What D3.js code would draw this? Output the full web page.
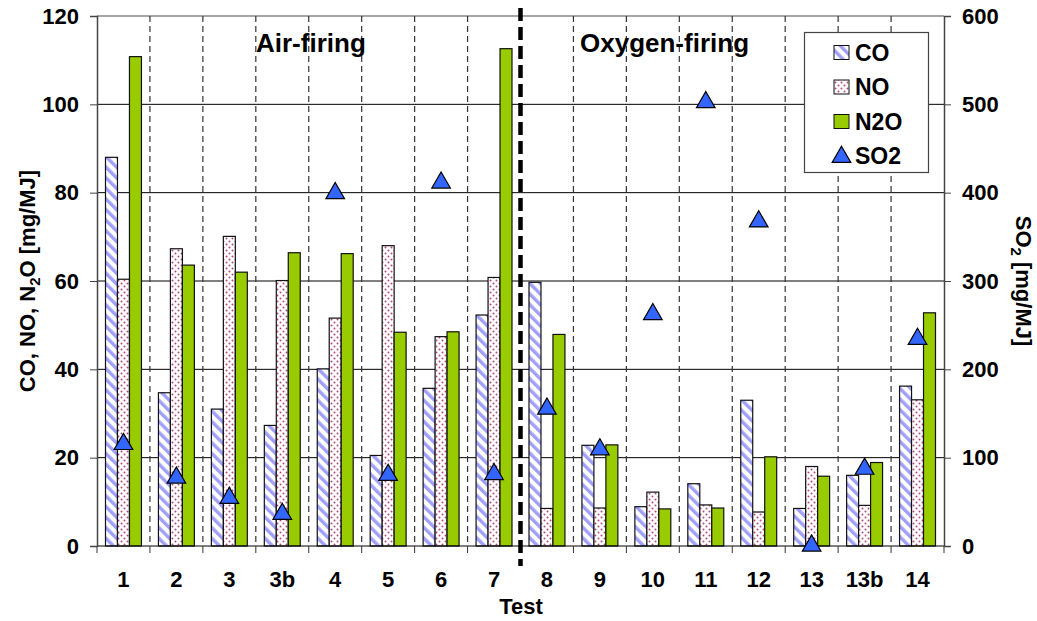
<!DOCTYPE html>
<html>
<head>
<meta charset="utf-8">
<script src="https://cdn.jsdelivr.net/npm/d3@7"></script>
<style>
body{margin:0;background:#fff}
text{font-family:"Liberation Sans",Arial,sans-serif;font-weight:bold;fill:#000}
</style>
</head>
<body>
<svg id="chart" width="1037" height="621"></svg>
<script>
//test data
var tests = ['1','2','3','3b','4','5','6','7','8','9','10','11','12','13','13b','14'];
var co  = [88.0,34.7,31.0,27.3,40.1,20.5,35.7,52.3,59.7,22.8,8.9,14.1,33.0,8.5,16.0,36.2];
var no  = [60.4,67.3,70.1,60.1,51.6,68.0,47.4,60.8,8.5,8.6,12.2,9.3,7.7,18.0,9.2,33.1];
var n2o = [110.8,63.6,62.0,66.4,66.2,48.4,48.5,112.6,47.9,22.9,8.4,8.6,20.2,15.8,18.9,52.8];
var so2 = [117,79,56,38,401,82,413,83,157,111,264,504,369,2,89,236];
var leftTicks = [0,20,40,60,80,100,120];
var rightTicks = [0,100,200,300,400,500,600];
var seriesNames = ['CO','NO','N2O'];
var splitAfter = '7';

var svg = d3.select('#chart');
var pLeft = 97, pRight = 944, pTop = 16, pBottom = 546;

var x = d3.scaleBand().domain(tests).range([pLeft,pRight]);
var xs = d3.scaleBand().domain(seriesNames).range([8.5, x.bandwidth()-8.5]);
var y = d3.scaleLinear().domain([0,120]).range([pBottom,pTop]);
var y2 = d3.scaleLinear().domain([0,600]).range([pBottom,pTop]);

//patterns
var defs = svg.append('defs');
var hatch = defs.append('pattern')
	.attr('id','coHatch')
	.attr('patternUnits','userSpaceOnUse')
	.attr('width',7.5).attr('height',7.5)
	.attr('patternTransform','rotate(-45)');
hatch.append('rect').attr('width',7.5).attr('height',7.5).attr('fill','#fff');
hatch.append('rect').attr('width',3.4).attr('height',7.5).attr('fill','#a0a0fa');

var dots = defs.append('pattern')
	.attr('id','noDots')
	.attr('patternUnits','userSpaceOnUse')
	.attr('width',6).attr('height',6);
dots.append('rect').attr('width',6).attr('height',6).attr('fill','#fff');
dots.append('circle').attr('cx',1.5).attr('cy',1.5).attr('r',1).attr('fill','#b4487a');
dots.append('circle').attr('cx',4.5).attr('cy',4.5).attr('r',1).attr('fill','#b4487a');

var fills = {CO:'url(#coHatch)', NO:'url(#noDots)', N2O:'#99cc00'};
var values = {CO:co, NO:no, N2O:n2o};

//horizontal grid
svg.append('g').selectAll('line').data(leftTicks.slice(1,-1)).enter()
	.append('line')
	.attr('x1',pLeft).attr('x2',pRight)
	.attr('y1',function(d){ return y(d)}).attr('y2',function(d){ return y(d)})
	.attr('stroke','#000').attr('stroke-width',1);
svg.append('line').attr('x1',pLeft).attr('x2',pRight).attr('y1',y(120)).attr('y2',y(120))
	.attr('stroke','#888').attr('stroke-width',1.5);

//vertical dashed grid
var bounds = tests.slice(1);
svg.append('g').selectAll('line').data(bounds).enter()
	.append('line')
	.attr('x1',function(d){ return x(d)}).attr('x2',function(d){ return x(d)})
	.attr('y1',pTop).attr('y2',pBottom)
	.attr('stroke','#333').attr('stroke-width',1.2)
	.attr('stroke-dasharray','6,4')
	.style('display',function(d){ return d == tests[tests.indexOf(splitAfter)+1] ? 'none' : null});

//bars
seriesNames.forEach(function(s){
	svg.append('g').selectAll('rect').data(tests).enter()
		.append('rect')
		.attr('x',function(d){ return x(d) + xs(s)})
		.attr('width',xs.bandwidth())
		.attr('y',function(d,i){ return y(values[s][i])})
		.attr('height',function(d,i){ return pBottom - y(values[s][i])})
		.attr('fill',fills[s])
		.attr('stroke','#111').attr('stroke-width',1.2);
});

//axes
var xAxis = svg.append('g').attr('transform','translate(0,'+pBottom+')');
xAxis.append('line').attr('x1',pLeft).attr('x2',pRight).attr('stroke','#000').attr('stroke-width',1.2);
xAxis.selectAll('line.tk').data(tests.concat(['end'])).enter()
	.append('line').attr('class','tk')
	.attr('x1',function(d){ return d=='end' ? pRight : x(d)})
	.attr('x2',function(d){ return d=='end' ? pRight : x(d)})
	.attr('y1',0).attr('y2',7).attr('stroke','#333');
xAxis.selectAll('text').data(tests).enter()
	.append('text')
	.attr('x',function(d){ return x(d)+x.bandwidth()/2})
	.attr('y',41)
	.style('text-anchor','middle').style('font-size','22px')
	.text(function(d){ return d});

var yAxis = d3.axisLeft(y).tickValues(leftTicks).tickSize(7).tickPadding(11);
svg.append('g').attr('transform','translate('+pLeft+',0)').call(yAxis)
	.call(function(g){
		g.select('.domain').attr('stroke','#444').attr('stroke-width',1.5);
		g.selectAll('.tick line').attr('stroke','#444');
		g.selectAll('text').attr('font-family',null).style('font-size','22px');
	});

var yAxis2 = d3.axisRight(y2).tickValues(rightTicks).tickSize(7).tickPadding(11);
svg.append('g').attr('transform','translate('+pRight+',0)').call(yAxis2)
	.call(function(g){
		g.select('.domain').attr('stroke','#444').attr('stroke-width',1.5);
		g.selectAll('.tick line').attr('stroke','#444');
		g.selectAll('text').attr('font-family',null).style('font-size','22px');
	});

//air / oxygen divider
var splitX = x(splitAfter) + x.bandwidth();
svg.append('line')
	.attr('x1',splitX).attr('x2',splitX).attr('y1',8).attr('y2',566)
	.attr('stroke','#000').attr('stroke-width',4.5)
	.attr('stroke-dasharray','13,6');

//SO2 triangles
var tri = d3.symbol().type(d3.symbolTriangle).size(150);
svg.append('g').selectAll('path').data(tests).enter()
	.append('path')
	.attr('d',tri)
	.attr('transform',function(d,i){ return 'translate('+(x(d)+xs('NO')+xs.bandwidth()/2)+','+(y2(so2[i])+1.5)+')'})
	.attr('fill','#3366ff').attr('stroke','#000').attr('stroke-width',1.2);

//region labels
svg.append('text').attr('x',256).attr('y',52).style('font-size','26px').text('Air-firing');
svg.append('text').attr('x',580).attr('y',52).style('font-size','26px').text('Oxygen-firing');

//axis titles
svg.append('text').attr('x',521).attr('y',614).style('text-anchor','middle').style('font-size','22px').text('Test');

var lt = svg.append('text')
	.attr('transform','translate(35,'+((pTop+pBottom)/2)+') rotate(-90)')
	.style('text-anchor','middle').style('font-size','22px');
lt.append('tspan').text('CO, NO, N');
lt.append('tspan').attr('dy',5).style('font-size','15px').text('2');
lt.append('tspan').attr('dy',-5).text('O [mg/MJ]');

var rt = svg.append('text')
	.attr('transform','translate(1016,'+((pTop+pBottom)/2)+') rotate(90)')
	.style('text-anchor','middle').style('font-size','22px');
rt.append('tspan').text('SO');
rt.append('tspan').attr('dy',5).style('font-size','15px').text('2');
rt.append('tspan').attr('dy',-5).text(' [mg/MJ]');

//legend
var legend = svg.append('g');
legend.append('rect').attr('x',804.5).attr('y',32.5).attr('width',124).attr('height',140)
	.attr('fill','#fff').attr('stroke','#444').attr('stroke-width',1.2);
var items = seriesNames.concat(['SO2']);
var rows = legend.selectAll('g.item').data(items).enter()
	.append('g').attr('class','item')
	.attr('transform',function(d,i){ return 'translate(834,'+(52.5+i*34.5)+')'});
rows.filter(function(d){ return d != 'SO2'}).append('rect')
	.attr('x',0).attr('y',-7).attr('width',15).attr('height',14)
	.attr('fill',function(d){ return fills[d]})
	.attr('stroke','#111').attr('stroke-width',1);
rows.filter(function(d){ return d == 'SO2'}).append('path')
	.attr('d',tri).attr('transform','translate(7.5,1)')
	.attr('fill','#3366ff').attr('stroke','#000').attr('stroke-width',1.2);
rows.append('text').attr('x',21).attr('y',8).style('font-size','23px').text(function(d){ return d});
</script>
</body>
</html>
